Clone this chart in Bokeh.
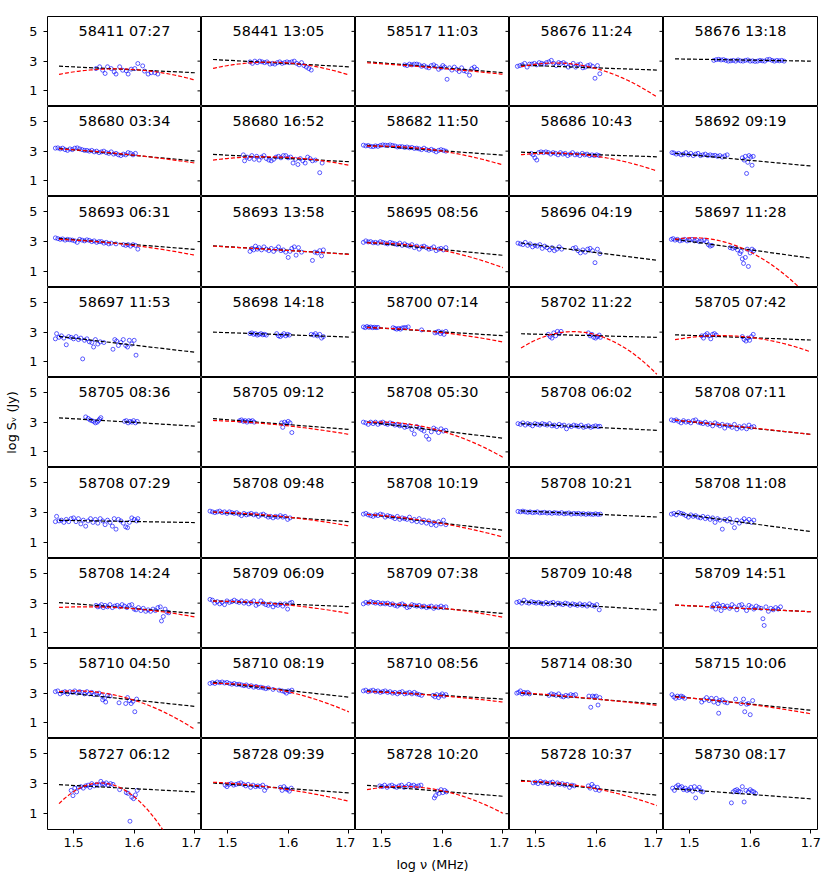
import numpy as np
from bokeh.plotting import figure
from bokeh.layouts import gridplot
from bokeh.models import Range1d, FixedTicker
from bokeh.core.properties import value
from bokeh.embed import file_html
from bokeh.resources import INLINE

# ---------------- data ----------------
titles = [
    "58411 07:27", "58441 13:05", "58517 11:03", "58676 11:24", "58676 13:18",
    "58680 03:34", "58680 16:52", "58682 11:50", "58686 10:43", "58692 09:19",
    "58693 06:31", "58693 13:58", "58695 08:56", "58696 04:19", "58697 11:28",
    "58697 11:53", "58698 14:18", "58700 07:14", "58702 11:22", "58705 07:42",
    "58705 08:36", "58705 09:12", "58708 05:30", "58708 06:02", "58708 07:11",
    "58708 07:29", "58708 09:48", "58708 10:19", "58708 10:21", "58708 11:08",
    "58708 14:24", "58709 06:09", "58709 07:38", "58709 10:48", "58709 14:51",
    "58710 04:50", "58710 08:19", "58710 08:56", "58714 08:30", "58715 10:06",
    "58727 06:12", "58728 09:39", "58728 10:20", "58728 10:37", "58730 08:17",
]

# linear fit (black): log S at the start and end of the fitted band
lin_start = [2.66, 3.11, 2.96, 2.73, 3.15,
             3.18, 2.78, 3.39, 2.93, 2.85,
             3.21, 2.72, 2.95, 2.91, 3.15,
             2.71, 3.00, 3.33, 2.89, 2.82,
             3.29, 3.24, 3.01, 2.89, 3.13,
             2.49, 3.04, 2.89, 3.11, 2.96,
             3.04, 3.15, 3.04, 3.09, 2.87,
             3.07, 3.73, 3.15, 3.00, 2.78,
             2.93, 3.04, 2.89, 3.22, 2.65]
lin_end = [2.22, 2.62, 2.23, 2.40, 3.00,
           2.34, 2.29, 2.73, 2.62, 2.00,
           2.48, 2.17, 2.09, 1.76, 1.90,
           1.65, 2.67, 2.76, 2.65, 2.47,
           2.73, 2.51, 1.92, 2.45, 2.18,
           2.34, 2.40, 1.83, 2.71, 1.74,
           2.31, 2.76, 2.31, 2.54, 2.42,
           2.11, 2.73, 2.60, 2.27, 1.85,
           2.45, 2.38, 2.16, 2.23, 1.99]

# curved fit (red): log S at start, middle and end of the band (None = no curved fit)
curv_start = [2.11, 2.51, 2.89, 2.62, None,
              3.15, 2.40, 3.33, 2.76, None,
              3.15, 2.70, 2.92, None, 3.15,
              None, None, 3.30, 1.93, 2.49,
              None, 3.11, 2.98, None, 3.13,
              None, 3.04, 2.88, None, None,
              2.71, 3.13, 3.00, None, 2.87,
              3.10, 3.65, 3.10, 3.04, 2.74,
              1.67, 3.09, 2.60, 3.15, None]
curv_mid = [2.46, 2.91, 2.55, 2.62, None,
            2.78, 2.60, 3.07, 2.72, None,
            2.80, 2.44, 2.52, None, 2.54,
            None, None, 3.02, 2.93, 2.70,
            None, 2.80, 2.52, None, 2.68,
            None, 2.75, 2.36, None, None,
            2.66, 2.92, 2.72, None, 2.65,
            2.67, 3.20, 2.85, 2.65, 2.30,
            2.48, 2.67, 2.62, 2.75, None]
curv_end = [1.73, 2.07, 2.12, 0.59, None,
            2.20, 2.05, 2.07, 1.67, None,
            2.10, 2.15, 1.27, None, -0.81,
            None, None, 2.34, 0.17, 1.67,
            None, 2.18, 0.64, None, 2.17,
            None, 2.12, 1.38, None, None,
            2.07, 2.31, 2.05, None, 2.42,
            0.56, 1.74, 2.40, 2.18, 1.61,
            -4.09, 1.83, 1.03, 1.54, None]

# band over which the fits are drawn (log MHz)
band_lo, band_mid, band_hi = 1.476, 1.588, 1.70

# measured points (log nu, log S) per panel
p01 = [(1.537,2.50),(1.543,2.62),(1.548,2.39),(1.552,2.17),(1.556,2.62),(1.562,2.50),(1.567,2.28),(1.570,2.13),(1.576,2.62),(1.581,2.39),(1.587,2.35),(1.590,2.13),(1.595,2.46),(1.601,2.50),(1.606,2.84),(1.614,2.68),(1.617,2.33),(1.623,2.13),(1.628,2.22),(1.634,2.22),(1.639,2.13)]
p02 = [(1.537,2.95),(1.541,2.85),(1.545,3.0),(1.549,2.9),(1.553,3.0),(1.557,2.95),(1.561,2.9),(1.565,2.95),(1.57,2.8),(1.574,2.85),(1.578,2.8),(1.582,2.9),(1.586,2.95),(1.59,2.85),(1.594,2.9),(1.598,2.95),(1.602,2.9),(1.606,2.95),(1.61,3.0),(1.614,2.85),(1.618,2.75),(1.622,2.9),(1.626,2.7),(1.63,2.6),(1.634,2.5),(1.638,2.4)]
p03 = [(1.538,2.75),(1.542,2.7),(1.546,2.8),(1.55,2.75),(1.554,2.8),(1.558,2.8),(1.562,2.75),(1.566,2.65),(1.57,2.7),(1.574,2.6),(1.578,2.55),(1.582,2.7),(1.586,2.75),(1.59,2.65),(1.594,2.45),(1.598,2.55),(1.601,2.7),(1.604,2.6),(1.608,1.78),(1.612,2.55),(1.616,2.4),(1.62,2.6),(1.624,2.45),(1.628,2.3),(1.632,2.55),(1.636,2.35),(1.64,2.3),(1.645,2.05),(1.649,2.5),(1.653,2.6),(1.657,2.45)]
p04 = [(1.47,2.65),(1.474,2.7),(1.478,2.75),(1.482,2.85),(1.486,2.6),(1.49,2.8),(1.494,2.8),(1.498,2.85),(1.502,2.75),(1.506,2.9),(1.51,2.85),(1.514,2.8),(1.518,2.9),(1.522,2.95),(1.526,3.05),(1.53,2.85),(1.534,2.7),(1.538,2.9),(1.542,2.85),(1.546,2.9),(1.55,2.8),(1.554,2.6),(1.558,2.7),(1.562,2.85),(1.566,2.6),(1.57,2.75),(1.574,2.8),(1.578,2.55),(1.582,2.6),(1.586,2.7),(1.59,2.75),(1.594,2.65),(1.598,1.85),(1.602,2.7),(1.606,2.15)]
p05 = [(1.540,3.05),(1.544,3.1),(1.548,3.12),(1.552,3.08),(1.556,3.1),(1.56,3.05),(1.564,3.0),(1.568,3.02),(1.572,3.05),(1.576,3.0),(1.58,3.08),(1.584,3.02),(1.588,3.0),(1.592,3.05),(1.596,3.08),(1.6,3.0),(1.604,3.02),(1.608,2.98),(1.612,3.0),(1.616,3.05),(1.62,3.02),(1.624,3.0),(1.628,3.1),(1.632,3.12),(1.636,3.05),(1.64,3.0),(1.644,3.05),(1.648,3.02),(1.652,3.05),(1.656,3.0)]
p06 = [(1.47,3.2),(1.474,3.22),(1.478,3.15),(1.482,3.2),(1.486,3.1),(1.49,3.05),(1.494,3.15),(1.498,3.1),(1.502,3.2),(1.506,3.22),(1.51,3.15),(1.514,3.1),(1.518,3.05),(1.522,3.05),(1.526,3.0),(1.53,3.05),(1.534,2.95),(1.538,3.0),(1.542,2.9),(1.546,2.95),(1.55,3.0),(1.554,2.9),(1.558,2.85),(1.562,2.95),(1.566,2.8),(1.57,2.85),(1.574,2.75),(1.578,2.7),(1.582,2.8),(1.586,2.75),(1.59,2.9),(1.594,2.85),(1.598,2.75),(1.602,2.85)]
p07 = [(1.526,2.75),(1.528,2.35),(1.532,2.6),(1.536,2.5),(1.54,2.7),(1.544,2.45),(1.548,2.65),(1.552,2.4),(1.556,2.6),(1.56,2.7),(1.564,2.5),(1.568,2.4),(1.572,2.35),(1.576,2.45),(1.58,2.6),(1.584,2.65),(1.588,2.55),(1.592,2.7),(1.596,2.7),(1.6,2.55),(1.604,2.6),(1.608,2.2),(1.612,2.45),(1.616,2.1),(1.62,2.5),(1.624,2.35),(1.628,2.2),(1.632,2.6),(1.636,2.5),(1.64,2.35),(1.645,2.4),(1.652,1.55),(1.656,2.2)]
p08 = [(1.47,3.4),(1.474,3.35),(1.478,3.38),(1.482,3.32),(1.486,3.3),(1.49,3.35),(1.494,3.32),(1.498,3.38),(1.502,3.42),(1.506,3.4),(1.51,3.38),(1.514,3.42),(1.518,3.38),(1.522,3.35),(1.526,3.28),(1.53,3.3),(1.534,3.3),(1.538,3.25),(1.542,3.28),(1.546,3.22),(1.55,3.25),(1.554,3.18),(1.558,3.2),(1.562,3.15),(1.566,3.1),(1.57,3.2),(1.574,3.1),(1.578,3.05),(1.582,3.12),(1.586,3.05),(1.59,2.95),(1.594,3.05),(1.598,3.1),(1.602,3.05),(1.606,3.0)]
p09 = [(1.493,2.85),(1.496,2.75),(1.499,2.55),(1.502,2.4),(1.505,2.9),(1.509,2.95),(1.513,2.9),(1.517,2.95),(1.521,2.9),(1.525,2.8),(1.529,2.9),(1.533,2.85),(1.537,2.75),(1.541,2.9),(1.545,2.8),(1.549,2.85),(1.553,2.7),(1.557,2.8),(1.561,2.9),(1.565,2.75),(1.569,2.8),(1.573,2.7),(1.577,2.85),(1.581,2.75),(1.585,2.8),(1.589,2.7),(1.593,2.75),(1.597,2.7),(1.601,2.75),(1.605,2.7)]
p10 = [(1.471,2.9),(1.474,2.88),(1.478,2.8),(1.482,2.85),(1.486,2.75),(1.49,2.8),(1.494,2.9),(1.498,2.75),(1.502,2.85),(1.506,2.7),(1.51,2.8),(1.514,2.85),(1.518,2.7),(1.522,2.75),(1.526,2.8),(1.53,2.7),(1.534,2.75),(1.538,2.7),(1.542,2.72),(1.546,2.65),(1.55,2.7),(1.554,2.6),(1.558,2.68),(1.562,2.75),(1.587,2.55),(1.59,2.4),(1.592,2.65),(1.594,1.5),(1.596,2.25),(1.598,2.7),(1.601,2.6),(1.603,2.05),(1.605,2.65)]
p11 = [(1.47,3.25),(1.474,3.2),(1.478,3.15),(1.482,3.18),(1.486,3.1),(1.49,3.15),(1.494,3.12),(1.498,3.1),(1.502,3.05),(1.506,2.95),(1.51,3.15),(1.514,3.1),(1.518,3.05),(1.522,3.12),(1.526,3.08),(1.53,3.0),(1.534,3.05),(1.538,2.95),(1.542,3.0),(1.546,3.0),(1.55,2.9),(1.554,2.95),(1.558,2.85),(1.562,2.9),(1.57,2.85),(1.582,2.8),(1.586,2.75),(1.59,2.8),(1.594,2.7),(1.598,2.8),(1.602,2.75),(1.606,2.5)]
p12 = [(1.537,2.35),(1.54,2.55),(1.543,2.45),(1.546,2.7),(1.549,2.5),(1.552,2.6),(1.556,2.45),(1.56,2.65),(1.564,2.5),(1.568,2.4),(1.572,2.55),(1.576,2.35),(1.58,2.5),(1.584,2.65),(1.588,2.4),(1.592,2.45),(1.596,2.3),(1.6,1.95),(1.603,2.35),(1.606,2.55),(1.61,2.65),(1.613,2.1),(1.617,2.6),(1.622,2.3),(1.64,1.75),(1.644,2.3),(1.648,2.25),(1.652,2.4),(1.655,2.05),(1.658,2.45)]
p13 = [(1.47,2.95),(1.474,3.05),(1.478,2.98),(1.482,3.0),(1.486,2.92),(1.49,2.95),(1.494,2.9),(1.498,3.0),(1.502,2.95),(1.506,2.9),(1.51,2.85),(1.514,2.95),(1.518,2.9),(1.522,2.85),(1.526,2.8),(1.53,2.9),(1.534,2.75),(1.538,2.85),(1.542,2.75),(1.546,2.7),(1.55,2.8),(1.554,2.6),(1.558,2.7),(1.562,2.5),(1.566,2.65),(1.57,2.7),(1.574,2.6),(1.578,2.5),(1.582,2.55),(1.586,2.65),(1.59,2.4),(1.594,2.5),(1.598,2.55),(1.602,2.45),(1.606,2.6)]
p14 = [(1.471,2.9),(1.475,2.85),(1.479,2.8),(1.483,2.95),(1.487,2.75),(1.491,2.85),(1.495,2.65),(1.499,2.75),(1.503,2.7),(1.507,2.8),(1.511,2.55),(1.515,2.7),(1.519,2.6),(1.523,2.45),(1.527,2.6),(1.531,2.4),(1.535,2.5),(1.539,2.65),(1.543,2.5),(1.562,2.55),(1.566,2.6),(1.57,2.4),(1.574,2.25),(1.578,2.45),(1.582,2.3),(1.586,2.5),(1.59,2.55),(1.594,2.4),(1.598,1.6),(1.602,2.5),(1.606,2.2)]
p15 = [(1.47,3.15),(1.473,3.2),(1.476,3.1),(1.48,3.15),(1.484,3.05),(1.488,3.1),(1.492,3.15),(1.496,3.05),(1.5,3.1),(1.504,3.15),(1.508,3.05),(1.512,3.1),(1.516,3.0),(1.52,3.05),(1.524,3.1),(1.528,3.0),(1.531,2.8),(1.534,2.7),(1.537,2.75),(1.567,2.6),(1.571,2.55),(1.575,2.6),(1.579,2.45),(1.583,2.2),(1.585,2.35),(1.587,1.85),(1.589,1.55),(1.592,1.95),(1.595,2.5),(1.597,1.35),(1.6,2.25),(1.603,2.5),(1.606,2.4)]
p16 = [(1.47,2.55),(1.472,2.9),(1.476,2.65),(1.48,2.75),(1.484,2.6),(1.488,2.15),(1.492,2.7),(1.496,2.65),(1.5,2.55),(1.504,2.7),(1.508,2.5),(1.512,2.6),(1.515,1.2),(1.518,2.45),(1.522,2.55),(1.526,2.35),(1.53,2.3),(1.533,2.0),(1.536,2.5),(1.54,2.2),(1.544,2.35),(1.55,2.3),(1.565,1.85),(1.568,2.5),(1.571,2.4),(1.574,2.1),(1.578,2.3),(1.582,2.5),(1.586,2.1),(1.589,2.0),(1.592,2.45),(1.596,2.2),(1.6,2.45),(1.603,1.45)]
p17 = [(1.537,2.9),(1.54,2.95),(1.543,2.85),(1.546,2.9),(1.549,2.8),(1.552,2.85),(1.555,2.9),(1.558,2.82),(1.561,2.85),(1.564,2.8),(1.581,2.9),(1.584,2.75),(1.587,2.7),(1.59,2.8),(1.593,2.9),(1.596,2.75),(1.599,2.85),(1.602,2.8),(1.638,2.85),(1.642,2.8),(1.645,2.9),(1.648,2.75),(1.652,2.85),(1.655,2.6),(1.658,2.7)]
p18 = [(1.47,3.35),(1.473,3.3),(1.476,3.38),(1.479,3.32),(1.482,3.35),(1.485,3.3),(1.488,3.33),(1.491,3.3),(1.494,3.32),(1.519,3.3),(1.522,3.25),(1.525,3.2),(1.528,3.25),(1.531,3.2),(1.534,3.28),(1.537,3.3),(1.54,3.3),(1.544,3.35),(1.566,3.15),(1.588,2.95),(1.591,3.0),(1.594,3.05),(1.597,2.9),(1.6,3.0),(1.603,2.85),(1.606,3.05)]
p19 = [(1.521,2.85),(1.524,2.7),(1.527,2.6),(1.53,2.95),(1.533,2.75),(1.536,3.05),(1.539,2.9),(1.542,3.05),(1.587,2.95),(1.59,2.75),(1.593,2.85),(1.596,2.65),(1.599,2.6),(1.602,2.7),(1.605,2.8),(1.607,2.65)]
p20 = [(1.52,2.75),(1.523,2.6),(1.526,2.8),(1.529,2.9),(1.532,2.75),(1.535,2.55),(1.538,2.85),(1.541,2.9),(1.544,2.8),(1.587,2.7),(1.59,2.5),(1.593,2.4),(1.596,2.6),(1.599,2.45),(1.602,2.7),(1.605,2.85)]
p21 = [(1.52,3.35),(1.524,3.25),(1.527,3.15),(1.53,3.1),(1.533,3.05),(1.536,2.95),(1.539,3.0),(1.541,3.1),(1.543,3.2),(1.545,3.3),(1.584,3.05),(1.587,3.1),(1.59,2.95),(1.593,3.05),(1.596,3.0),(1.599,3.1),(1.602,2.95),(1.605,3.05)]
p22 = [(1.52,3.1),(1.523,3.15),(1.526,3.05),(1.529,3.1),(1.532,3.0),(1.535,3.1),(1.538,3.05),(1.541,3.1),(1.544,3.0),(1.589,2.95),(1.591,2.65),(1.594,3.0),(1.597,2.9),(1.6,3.05),(1.603,2.95),(1.606,2.3)]
p23 = [(1.47,3.0),(1.474,2.95),(1.478,2.85),(1.482,3.0),(1.486,2.9),(1.49,3.0),(1.494,2.85),(1.498,2.95),(1.502,3.0),(1.506,2.9),(1.51,2.85),(1.514,2.95),(1.518,2.9),(1.522,2.8),(1.526,2.85),(1.53,2.75),(1.534,2.8),(1.538,2.65),(1.542,2.7),(1.546,2.75),(1.55,2.5),(1.554,2.2),(1.558,2.7),(1.562,2.6),(1.566,2.5),(1.57,2.4),(1.574,2.05),(1.578,1.85),(1.582,2.35),(1.586,2.6),(1.59,2.5),(1.594,2.3),(1.598,2.55),(1.602,2.4),(1.606,2.45)]
p24 = [(1.471,2.9),(1.475,2.85),(1.479,2.95),(1.483,2.8),(1.487,2.9),(1.491,2.85),(1.495,2.75),(1.499,2.9),(1.503,2.85),(1.507,2.8),(1.511,2.9),(1.515,2.85),(1.519,2.8),(1.523,2.9),(1.527,2.75),(1.531,2.8),(1.535,2.7),(1.539,2.85),(1.543,2.75),(1.547,2.8),(1.551,2.55),(1.555,2.75),(1.559,2.7),(1.563,2.8),(1.567,2.75),(1.571,2.7),(1.575,2.8),(1.579,2.65),(1.583,2.7),(1.587,2.75),(1.591,2.65),(1.595,2.7),(1.599,2.75),(1.603,2.7),(1.606,2.72)]
p25 = [(1.47,3.15),(1.474,3.1),(1.478,3.15),(1.482,3.05),(1.486,2.95),(1.49,3.1),(1.494,3.0),(1.498,3.05),(1.502,2.95),(1.506,3.1),(1.51,3.15),(1.514,3.0),(1.518,2.95),(1.522,2.9),(1.526,3.0),(1.53,2.85),(1.534,2.9),(1.538,2.75),(1.542,2.95),(1.546,2.85),(1.55,2.75),(1.554,2.85),(1.558,2.6),(1.562,2.8),(1.566,2.75),(1.57,2.65),(1.574,2.85),(1.578,2.55),(1.582,2.7),(1.586,2.6),(1.59,2.75),(1.594,2.55),(1.598,2.8),(1.602,2.65),(1.606,2.7)]
p26 = [(1.47,2.4),(1.472,2.75),(1.476,2.45),(1.48,2.5),(1.484,2.35),(1.488,2.55),(1.492,2.4),(1.496,2.6),(1.5,2.65),(1.504,2.4),(1.508,2.6),(1.512,2.25),(1.516,2.5),(1.52,2.1),(1.524,2.45),(1.528,2.6),(1.532,2.35),(1.536,2.55),(1.54,2.3),(1.544,2.6),(1.548,2.45),(1.552,2.2),(1.556,2.5),(1.56,2.35),(1.564,2.1),(1.567,2.6),(1.57,1.9),(1.574,2.55),(1.578,2.45),(1.582,2.3),(1.586,2.05),(1.589,2.0),(1.592,2.35),(1.596,2.65),(1.6,2.55),(1.604,2.45),(1.606,2.6)]
p27 = [(1.471,3.1),(1.475,3.05),(1.479,3.0),(1.483,3.05),(1.487,3.1),(1.491,3.0),(1.495,3.05),(1.499,2.95),(1.503,3.05),(1.507,3.0),(1.511,2.95),(1.515,3.0),(1.519,2.9),(1.523,2.8),(1.527,2.95),(1.531,2.85),(1.535,2.9),(1.539,2.95),(1.543,2.85),(1.547,2.9),(1.551,2.75),(1.555,2.85),(1.559,2.9),(1.563,2.8),(1.567,2.7),(1.571,2.75),(1.575,2.65),(1.579,2.75),(1.583,2.7),(1.587,2.8),(1.591,2.7),(1.595,2.75),(1.599,2.55),(1.603,2.65)]
p28 = [(1.47,2.9),(1.474,2.95),(1.478,2.85),(1.482,2.8),(1.486,2.75),(1.49,2.85),(1.494,2.8),(1.498,2.9),(1.502,2.85),(1.506,2.7),(1.51,2.8),(1.514,2.75),(1.518,2.7),(1.522,2.6),(1.526,2.75),(1.53,2.55),(1.534,2.65),(1.538,2.6),(1.542,2.55),(1.546,2.7),(1.55,2.45),(1.554,2.55),(1.558,2.4),(1.562,2.6),(1.566,2.35),(1.57,2.5),(1.574,2.3),(1.578,2.45),(1.582,2.2),(1.586,2.35),(1.59,2.15),(1.594,2.4),(1.598,2.25),(1.602,2.5),(1.606,2.2)]
p29 = [(1.471,3.08),(1.475,3.05),(1.479,3.1),(1.483,3.05),(1.487,3.02),(1.491,3.05),(1.495,3.0),(1.499,3.02),(1.503,3.05),(1.507,2.98),(1.511,3.0),(1.515,3.02),(1.519,2.97),(1.523,3.0),(1.527,2.95),(1.531,3.0),(1.535,2.97),(1.539,2.95),(1.543,3.0),(1.547,2.92),(1.551,2.95),(1.555,2.98),(1.559,2.9),(1.563,2.95),(1.567,2.92),(1.571,2.95),(1.575,2.9),(1.579,2.93),(1.583,2.88),(1.587,2.92),(1.591,2.9),(1.595,2.88),(1.599,2.92),(1.603,2.88),(1.607,2.9)]
p30 = [(1.47,2.9),(1.474,2.95),(1.478,2.85),(1.482,3.0),(1.486,2.95),(1.49,2.9),(1.494,2.8),(1.498,2.7),(1.502,2.85),(1.506,2.75),(1.51,2.8),(1.514,2.7),(1.518,2.65),(1.522,2.75),(1.526,2.6),(1.53,2.7),(1.534,2.55),(1.538,2.65),(1.542,2.35),(1.546,2.6),(1.55,2.5),(1.554,1.9),(1.558,2.55),(1.562,2.45),(1.566,2.6),(1.57,2.35),(1.574,2.0),(1.578,2.5),(1.582,2.3),(1.586,2.45),(1.59,2.6),(1.594,2.4),(1.598,2.55),(1.602,2.35),(1.606,2.5)]
p31 = [(1.537,2.85),(1.54,2.75),(1.543,2.8),(1.546,2.9),(1.549,2.7),(1.552,2.85),(1.556,2.75),(1.56,2.9),(1.564,2.7),(1.568,2.8),(1.572,2.85),(1.576,2.75),(1.58,2.9),(1.584,2.8),(1.588,2.7),(1.592,2.85),(1.596,2.9),(1.6,2.6),(1.603,2.55),(1.607,2.7),(1.611,2.5),(1.615,2.65),(1.619,2.45),(1.623,2.55),(1.627,2.45),(1.631,2.6),(1.635,2.5),(1.639,2.7),(1.643,2.75),(1.645,1.8),(1.648,2.1),(1.651,2.6),(1.654,2.4),(1.657,2.35)]
p32 = [(1.471,3.25),(1.475,3.2),(1.479,3.0),(1.483,3.1),(1.487,2.95),(1.491,3.05),(1.495,2.9),(1.499,3.15),(1.503,3.05),(1.507,3.1),(1.511,3.2),(1.515,3.1),(1.519,3.05),(1.523,3.15),(1.527,3.0),(1.531,3.1),(1.535,2.95),(1.539,3.05),(1.543,3.15),(1.547,2.85),(1.551,2.95),(1.555,3.15),(1.559,3.0),(1.563,2.9),(1.567,2.85),(1.571,2.95),(1.575,2.75),(1.579,2.9),(1.583,2.85),(1.587,2.95),(1.591,2.8),(1.595,2.95),(1.599,2.6),(1.603,3.0),(1.606,3.05)]
p33 = [(1.47,2.95),(1.474,3.05),(1.478,3.0),(1.482,3.1),(1.486,3.05),(1.49,3.0),(1.494,3.05),(1.498,2.95),(1.502,3.0),(1.506,2.95),(1.51,3.0),(1.514,2.9),(1.518,2.95),(1.522,2.85),(1.526,2.8),(1.53,2.9),(1.534,2.95),(1.538,2.85),(1.542,2.7),(1.546,2.75),(1.55,2.9),(1.554,2.85),(1.558,2.8),(1.562,2.85),(1.566,2.75),(1.57,2.8),(1.574,2.7),(1.578,2.75),(1.582,2.8),(1.586,2.65),(1.59,2.75),(1.594,2.7),(1.598,2.8),(1.602,2.7),(1.606,2.75)]
p34 = [(1.469,3.05),(1.473,3.1),(1.477,3.0),(1.481,3.2),(1.485,3.05),(1.489,3.0),(1.493,3.1),(1.497,3.05),(1.501,3.0),(1.505,3.05),(1.509,3.0),(1.513,2.95),(1.517,3.05),(1.521,2.95),(1.525,3.0),(1.529,3.05),(1.533,2.9),(1.537,3.0),(1.541,2.95),(1.545,2.9),(1.549,3.0),(1.553,2.95),(1.557,2.85),(1.561,2.95),(1.565,2.9),(1.569,2.85),(1.573,2.95),(1.577,2.85),(1.581,2.9),(1.585,2.8),(1.589,2.95),(1.593,2.85),(1.597,2.8),(1.601,2.9),(1.605,2.55)]
p35 = [(1.537,2.75),(1.54,2.9),(1.543,2.6),(1.546,2.95),(1.549,2.8),(1.552,2.5),(1.555,2.85),(1.558,2.7),(1.562,2.8),(1.566,2.65),(1.57,2.9),(1.574,2.75),(1.578,2.55),(1.582,2.85),(1.586,2.9),(1.59,2.7),(1.594,2.5),(1.598,2.85),(1.602,2.75),(1.606,2.6),(1.61,2.8),(1.614,2.7),(1.618,2.65),(1.621,1.95),(1.623,1.5),(1.626,2.75),(1.63,2.45),(1.634,2.65),(1.638,2.55),(1.642,2.7),(1.646,2.6),(1.65,2.75)]
p36 = [(1.47,3.1),(1.474,3.15),(1.478,2.95),(1.482,3.05),(1.486,3.1),(1.49,2.95),(1.494,3.1),(1.498,3.05),(1.502,3.15),(1.506,3.0),(1.51,3.1),(1.514,3.05),(1.518,2.95),(1.522,3.1),(1.526,2.95),(1.53,3.05),(1.534,2.9),(1.538,2.95),(1.542,3.0),(1.546,2.85),(1.548,2.55),(1.551,2.65),(1.553,2.4),(1.556,2.85),(1.56,2.8),(1.575,2.35),(1.586,2.3),(1.589,2.7),(1.592,2.5),(1.595,2.3),(1.598,2.45),(1.601,1.75),(1.604,2.6)]
p37 = [(1.471,3.65),(1.475,3.7),(1.479,3.65),(1.483,3.75),(1.487,3.7),(1.491,3.75),(1.495,3.68),(1.499,3.72),(1.503,3.65),(1.507,3.6),(1.511,3.65),(1.515,3.58),(1.519,3.6),(1.523,3.55),(1.527,3.5),(1.531,3.55),(1.535,3.45),(1.539,3.5),(1.543,3.4),(1.547,3.45),(1.551,3.38),(1.555,3.4),(1.559,3.35),(1.563,3.3),(1.567,3.35),(1.575,3.25),(1.585,3.2),(1.59,3.15),(1.594,3.1),(1.597,3.0),(1.6,3.15),(1.603,3.1),(1.606,3.2)]
p38 = [(1.47,3.15),(1.474,3.2),(1.478,3.1),(1.482,3.15),(1.486,3.2),(1.49,3.1),(1.494,3.15),(1.498,3.05),(1.502,3.1),(1.506,3.15),(1.51,3.05),(1.514,3.1),(1.518,3.0),(1.522,3.05),(1.526,2.95),(1.53,3.05),(1.534,3.1),(1.538,2.95),(1.542,3.0),(1.546,3.05),(1.55,2.95),(1.554,3.05),(1.558,2.95),(1.562,2.9),(1.566,2.85),(1.585,2.85),(1.588,2.75),(1.591,2.9),(1.594,2.7),(1.597,2.85),(1.6,2.95),(1.603,2.8),(1.606,2.9)]
p39 = [(1.469,3.0),(1.472,3.05),(1.475,3.15),(1.478,2.95),(1.481,3.05),(1.484,3.0),(1.487,3.05),(1.49,2.95),(1.522,2.85),(1.526,2.95),(1.53,2.9),(1.534,2.85),(1.538,2.95),(1.542,2.8),(1.546,2.75),(1.55,2.85),(1.554,2.8),(1.558,2.9),(1.562,2.85),(1.566,2.9),(1.588,2.8),(1.591,2.05),(1.594,2.8),(1.597,2.75),(1.6,2.8),(1.603,2.2),(1.606,2.7)]
p40 = [(1.471,2.9),(1.474,2.75),(1.477,2.65),(1.48,2.8),(1.483,2.7),(1.486,2.8),(1.489,2.75),(1.492,2.65),(1.52,2.4),(1.524,2.55),(1.528,2.7),(1.532,2.5),(1.536,2.65),(1.54,2.4),(1.544,2.65),(1.547,2.3),(1.548,1.65),(1.55,2.5),(1.554,2.55),(1.558,2.4),(1.562,2.35),(1.576,2.6),(1.585,2.3),(1.589,2.6),(1.591,1.75),(1.594,2.25),(1.597,2.3),(1.6,1.55),(1.604,2.5)]
p41 = [(1.496,2.55),(1.499,2.2),(1.502,2.7),(1.505,2.45),(1.508,2.75),(1.512,2.8),(1.516,2.7),(1.52,2.85),(1.524,2.9),(1.527,2.75),(1.53,3.0),(1.534,2.85),(1.538,2.95),(1.542,2.9),(1.545,3.15),(1.548,3.0),(1.551,2.95),(1.554,3.05),(1.557,2.9),(1.561,3.0),(1.565,2.95),(1.576,2.6),(1.587,2.4),(1.59,2.35),(1.593,0.5),(1.596,2.1),(1.599,2.0),(1.602,2.25),(1.605,2.55)]
p42 = [(1.496,2.9),(1.499,2.8),(1.502,2.95),(1.506,3.0),(1.51,2.9),(1.514,2.95),(1.518,3.0),(1.522,3.05),(1.526,2.95),(1.53,2.85),(1.534,2.95),(1.538,2.75),(1.542,2.9),(1.546,2.8),(1.55,2.85),(1.554,2.8),(1.558,2.9),(1.561,2.55),(1.564,2.75),(1.587,2.75),(1.59,2.55),(1.593,2.8),(1.596,2.65),(1.599,2.6),(1.602,2.5),(1.605,2.7)]
p43 = [(1.497,2.85),(1.501,2.8),(1.505,2.9),(1.509,2.75),(1.513,2.85),(1.517,2.9),(1.521,2.8),(1.525,2.75),(1.529,2.85),(1.533,2.9),(1.537,2.75),(1.541,2.8),(1.545,2.95),(1.549,2.85),(1.553,2.9),(1.557,2.8),(1.561,2.85),(1.565,2.9),(1.587,2.05),(1.589,2.2),(1.592,2.5),(1.595,2.35),(1.598,2.6),(1.601,2.4),(1.604,2.55),(1.607,2.45)]
p44 = [(1.496,3.05),(1.5,3.1),(1.504,3.0),(1.508,3.15),(1.512,3.05),(1.516,3.1),(1.52,3.0),(1.524,3.05),(1.528,3.1),(1.532,2.95),(1.536,3.05),(1.54,2.95),(1.544,3.0),(1.548,2.9),(1.552,2.95),(1.556,2.75),(1.56,2.9),(1.564,2.85),(1.587,2.85),(1.59,2.7),(1.593,2.95),(1.596,2.8),(1.599,2.6),(1.602,2.75),(1.605,2.55)]
p45 = [(1.472,2.7),(1.475,2.55),(1.478,2.8),(1.481,2.9),(1.484,2.75),(1.487,2.8),(1.49,2.6),(1.493,2.7),(1.496,2.55),(1.499,2.6),(1.502,2.75),(1.505,2.5),(1.508,2.8),(1.51,2.05),(1.513,2.6),(1.516,2.75),(1.519,2.5),(1.522,2.45),(1.569,1.72),(1.572,2.45),(1.575,2.55),(1.578,2.6),(1.581,2.5),(1.584,2.45),(1.587,2.8),(1.59,1.78),(1.593,2.55),(1.597,2.45),(1.6,2.6),(1.603,2.5),(1.606,2.45),(1.609,2.35)]

panel_points = [p01, p02, p03, p04, p05, p06, p07, p08, p09, p10,
                p11, p12, p13, p14, p15, p16, p17, p18, p19, p20,
                p21, p22, p23, p24, p25, p26, p27, p28, p29, p30,
                p31, p32, p33, p34, p35, p36, p37, p38, p39, p40,
                p41, p42, p43, p44, p45]

x_ticks = [1.5, 1.6, 1.7]
y_ticks = [1, 3, 5]

# ---------------- layout / style ----------------
FONT = "DejaVu Sans"
NROW, NCOL = 9, 5
FRAME_W = 154
ROW_H = [90, 90, 91, 90, 90, 91, 90, 90, 91]
X_LO, X_HI = 1.457, 1.711
Y_LO, Y_HI = -0.05, 6.0
DASH = "4 2"
# uniform outer borders (wide enough for every axis/label so all frames line up)
B_LEFT, B_RIGHT, B_TOP, B_BOTTOM = 47, 4, 16, 50

xr = Range1d(X_LO, X_HI)
yr = Range1d(Y_LO, Y_HI)

grid = []
for r in range(NROW):
    row = []
    for c in range(NCOL):
        i = r * NCOL + c
        left = (c == 0)
        bottom = (r == NROW - 1)
        p = figure(frame_width=FRAME_W, frame_height=ROW_H[r],
                   x_range=xr, y_range=yr, title=None,
                   x_axis_location="below" if bottom else None,
                   y_axis_location="left" if left else None,
                   toolbar_location=None, output_backend="svg",
                   min_border=0,
                   min_border_left=B_LEFT if left else 0,
                   min_border_right=B_RIGHT if c == NCOL - 1 else 0,
                   min_border_top=B_TOP if r == 0 else 0,
                   min_border_bottom=B_BOTTOM if bottom else 0,
                   background_fill_color="white", border_fill_color="white",
                   outline_line_color="black", outline_line_width=1.0)
        p.grid.visible = False

        if left:
            ax = p.yaxis[0]
            ax.ticker = FixedTicker(ticks=y_ticks)
            ax.major_tick_out = 4
            ax.major_tick_in = 0
            ax.minor_tick_line_color = None
            ax.axis_line_color = None
            ax.major_tick_line_color = "black"
            ax.major_label_text_font = FONT
            ax.major_label_text_font_size = "12.8px"
            ax.major_label_text_color = "black"
            ax.major_label_standoff = 6
            if r == 4:
                ax.axis_label = "log S\u1d65 (Jy)"
                ax.axis_label_text_font = FONT
                ax.axis_label_text_font_size = "12.8px"
                ax.axis_label_text_font_style = "normal"
                ax.axis_label_text_color = "black"
                ax.axis_label_standoff = 7
        if c < NCOL - 1:
            # tick marks of the right-hand neighbour, pointing into this panel
            p.ray(x=[X_HI] * len(y_ticks), y=y_ticks, length=4,
                  length_units="screen", angle=np.pi, line_color="black",
                  line_width=1)
        if bottom:
            ax = p.xaxis[0]
            ax.ticker = FixedTicker(ticks=x_ticks)
            ax.major_tick_out = 4
            ax.major_tick_in = 0
            ax.minor_tick_line_color = None
            ax.axis_line_color = None
            ax.major_tick_line_color = "black"
            ax.major_label_text_font = FONT
            ax.major_label_text_font_size = "12.8px"
            ax.major_label_text_color = "black"
            ax.major_label_standoff = 4
            if c == 2:
                ax.axis_label = "log \u03bd (MHz)"
                ax.axis_label_text_font = FONT
                ax.axis_label_text_font_size = "12.8px"
                ax.axis_label_text_font_style = "normal"
                ax.axis_label_text_color = "black"
                ax.axis_label_standoff = 7

        pts = panel_points[i]
        xs = [q[0] for q in pts]
        ys = [q[1] for q in pts]
        p.scatter(xs, ys, marker="circle", size=4, fill_color=None,
                  line_color="#0000ff", line_width=0.75, line_alpha=0.85)

        p.line([band_lo, band_hi], [lin_start[i], lin_end[i]],
               line_color="black", line_width=1.2, line_dash=DASH)

        if curv_start[i] is not None:
            coef = np.polyfit([band_lo, band_mid, band_hi],
                              [curv_start[i], curv_mid[i], curv_end[i]], 2)
            cx = np.linspace(band_lo, band_hi, 80)
            cy = np.polyval(coef, cx)
            p.line(cx, cy, line_color="#ff0000", line_width=1.2, line_dash=DASH)

        p.text(x=[(X_LO + X_HI) / 2], y=[5.0], text=[titles[i]],
               text_font=value(FONT), text_font_size="14.4px",
               text_align="center", text_baseline="middle", text_color="black")
        row.append(p)
    grid.append(row)

layout = gridplot(grid, toolbar_location=None)
layout.spacing = 0
open("out.html", "w").write(file_html(layout, INLINE))
